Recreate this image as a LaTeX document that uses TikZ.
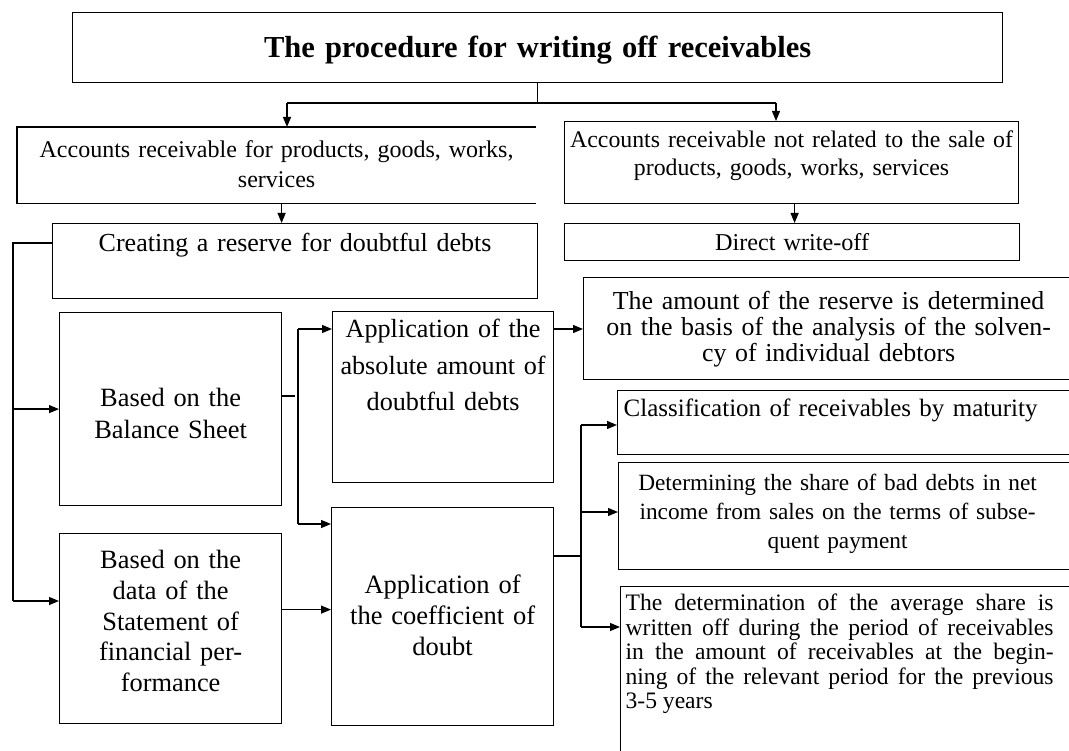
\documentclass[tikz,border=0pt]{standalone}
\usepackage{fontspec}
\setmainfont{Liberation Serif}
\usetikzlibrary{arrows.meta}
\newcommand\fs[2]{\fontsize{#1}{#2}\selectfont}
\newcommand\shiftc[1]{\leftskip=0pt plus 1fil\rightskip=#1 plus 1fil\parfillskip=0pt\relax}
\tikzset{
  blk/.style={draw, line width=1.2pt, anchor=north west, inner sep=0pt, align=center},
  arr/.style={-{Triangle[length=10pt,width=8pt]}, line width=1.2pt},
  ln/.style={line width=1.2pt},
}

\begin{document}
\begin{tikzpicture}[x=1pt, y=-1pt]
\useasboundingbox (0,0) rectangle (1069,751);
% heading
\node[blk, text width=930pt, text height=44.5pt, text depth=25.5pt, font=\fs{30.5}{36}\bfseries] (top) at (72,12) {The procedure for writing off receivables};
% two kinds of receivables
\node[blk, draw=none, text width=518pt, text height=30pt, text depth=45pt, font=\fs{24}{30}] (acc1) at (17,127) {Accounts receivable for products, goods, works,\\ services};
\node[blk, text width=454pt, text height=26pt, text depth=56pt, font=\fs{23.8}{28}] (acc2) at (564,121) {Accounts receivable not related to the sale of\\ products, goods, works, services};
\node[blk, text width=485pt, text height=28pt, text depth=47pt, font=\fs{26}{31}] (creat) at (52,223) {Creating a reserve for doubtful debts};
\node[blk, text width=455pt, text height=27pt, text depth=10pt, font=\fs{24.2}{30}] (direct) at (564,223) {Direct write-off};
% sources of data
\node[blk, text width=222pt, text height=94pt, text depth=99pt, font=\fs{26.4}{31.7}] (bal) at (59,312) {Based on the\\ Balance Sheet};
\node[blk, text width=222pt, text height=35pt, text depth=155pt, font=\fs{26.4}{30.7}] (stat) at (59,533) {Based on the\\ data of the\\ Statement of\\ financial per-\\ formance};
% methods
\node[blk, text width=221pt, text height=26pt, text depth=145pt, font=\fs{26.2}{36.5}] (abs) at (332,311) {Application of the\\ absolute amount of\\ doubtful debts};
\node[blk, text width=222pt, text height=86pt, text depth=132pt, font=\fs{26.5}{31}] (coef) at (331,507) {Application of\\ the coefficient of\\ doubt};
% results
\node[blk, text width=490pt, text height=32pt, text depth=70pt, font=\fs{25.9}{26}] (amount) at (583,277) {The amount of the reserve is determined\\ on the basis of the analysis of the solven-\\ cy of individual debtors};
\node[blk, text width=468pt, text height=25.5pt, text depth=38.5pt, font=\fs{25}{30}] (clas) at (617,390) {\shiftc{42pt}Classification of receivables by maturity\par};
\node[blk, text width=467pt, text height=28pt, text depth=79pt, font=\fs{23.3}{29}] (det) at (618,462) {\shiftc{29pt}Determining the share of bad debts in net\\ income from sales on the terms of subse-\\ quent payment\par};
\node[blk, align=justify, text width=465pt, text height=24pt, text depth=160pt, font=\fs{23.6}{24.5}] (last) at (620,586) {\leftskip=5pt\rightskip=32pt\parfillskip=0pt plus 1fil\relax The determination of the average share is\linebreak written off during the period of receivables\linebreak in the amount of receivables at the begin-\linebreak ning of the relevant period for the previous\linebreak 3-5 years\par};

% top split
\coordinate (bl) at (287,103);
\coordinate (bri) at (776,103);
\draw[ln] (top.south) -- (top.south |- bl);
\draw[ln] (bl) -- (bri);
\draw[arr] (bl) -- (bl |- acc1.north);
\draw[arr] (bri) -- (bri |- acc2.north);
% box with open right side
\draw[ln] (acc1.north east) -- (acc1.north west) -- (acc1.south west) -- (acc1.south east);
\draw[arr] ([xshift=5pt]acc1.south) -- ([xshift=5pt]acc1.south |- creat.north);
\draw[arr] ([xshift=3pt]acc2.south) -- ([xshift=3pt]acc2.south |- direct.north);

% left trunk
\coordinate (lt) at (13,243);
\coordinate (lb) at (13,601);
\draw[ln] (creat.west |- lt) -- (lt) -- (lb);
\draw[arr] (lt |- bal.west) -- (bal.west);
\draw[arr] (lb) -- (lb -| stat.west);

% middle trunk
\coordinate (bs) at (295,396);
\coordinate (mt) at (298,329);
\coordinate (mb) at (298,524);
\draw[ln] (bal.east |- bs) -- (bs);
\draw[ln] (mt) -- (mb);
\draw[arr] (mt) -- (mt -| abs.west);
\draw[arr] (mb) -- (mb -| coef.west);
\draw[arr] ([yshift=19pt]stat.east) -- ([yshift=19pt]stat.east -| coef.west);
\draw[arr] (abs.east |- mt) -- (amount.west |- mt);

% right trunk
\coordinate (rt) at (581,425);
\coordinate (rm) at (581,512);
\coordinate (rj) at (581,556);
\coordinate (rb) at (581,627);
\draw[ln] (coef.east |- rj) -- (rj);
\draw[ln] (rt) -- (rb);
\draw[arr] (rt) -- (rt -| clas.west);
\draw[arr] (rm) -- (rm -| det.west);
\draw[arr] (rb) -- (rb -| last.west);
\end{tikzpicture}
\end{document}
